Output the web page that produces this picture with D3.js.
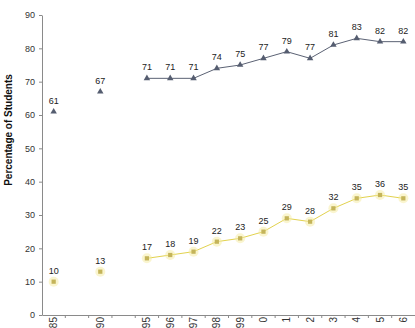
<!DOCTYPE html>
<html>
<head>
<meta charset="utf-8">
<script src="https://cdn.jsdelivr.net/npm/d3@7"></script>
<style>
  body { margin: 0; background: #fff; }
  svg { display: block; font-family: "Liberation Sans", Arial, sans-serif; }
</style>
</head>
<body>
<div id="chart"></div>
<script>
'use strict';

// categories include two blank slots between the early years
const years = ['85', '', '90', ' ', '95', '96', '97', '98', '99', '0', '1', '2', '3', '4', '5', '6'];
const pointYears = ['85', '90', '95', '96', '97', '98', '99', '0', '1', '2', '3', '4', '5', '6'];
const upperValues = [61, 67, 71, 71, 71, 74, 75, 77, 79, 77, 81, 83, 82, 82];
const lowerValues = [10, 13, 17, 18, 19, 22, 23, 25, 29, 28, 32, 35, 36, 35];
const yTicks = [0, 10, 20, 30, 40, 50, 60, 70, 80, 90];
// the line only joins the yearly points from 95 on
const lineStart = '95';

const width = 415;
const height = 328;
const margin = { top: 15, right: 0, bottom: 13, left: 42 };

const svg = d3.select('#chart').append('svg')
  .attr('width', width)
  .attr('height', height);

const xScale = d3.scaleBand()
  .domain(years)
  .range([margin.left, width - margin.right]);

const yScale = d3.scaleLinear()
  .domain([0, 90])
  .range([height - margin.bottom, margin.top]);

const cx = function (y) { return xScale(y) + xScale.bandwidth() / 2; };

// y axis
const yAxis = svg.append('g')
  .attr('transform', `translate(${margin.left}, 0)`)
  .call(d3.axisLeft(yScale).tickValues(yTicks).tickSize(3).tickSizeOuter(0).tickPadding(4));
yAxis.select('.domain').attr('stroke', '#8a8a8a');
yAxis.selectAll('.tick line').attr('stroke', '#8a8a8a');
yAxis.selectAll('.tick text').attr('fill', '#333').style('font-size', '9px');

// x axis
const xAxis = svg.append('g')
  .attr('transform', `translate(0, ${yScale(0)})`)
  .call(d3.axisBottom(xScale).tickSize(0).tickSizeOuter(0));
xAxis.select('.domain').attr('stroke', '#8a8a8a');
xAxis.selectAll('.tick line').remove();
xAxis.selectAll('.tick text')
  .attr('fill', '#333')
  .style('font-size', '10px')
  .attr('text-anchor', 'end')
  .attr('transform', 'translate(0, 2) rotate(-90)')
  .attr('x', 0)
  .attr('y', 0)
  .attr('dy', '0.35em');

// separator ticks between categories
xAxis.selectAll('.sep')
  .data(years.slice(1))
  .enter().append('line')
  .attr('class', 'sep')
  .attr('x1', function (d) { return xScale(d); })
  .attr('x2', function (d) { return xScale(d); })
  .attr('y1', 0)
  .attr('y2', 3)
  .attr('stroke', '#8a8a8a');

// axis title
svg.append('text')
  .attr('transform', `translate(12, 130) rotate(-90)`)
  .attr('text-anchor', 'middle')
  .style('font-size', '10px')
  .style('font-weight', 'bold')
  .attr('fill', '#111')
  .text('Percentage of Students');

function drawSeries(values, lineColor, markColor, symbolType, glow) {
  const data = pointYears.map(function (y, i) { return { year: y, value: values[i] }; });
  const startIdx = pointYears.indexOf(lineStart);
  const line = d3.line()
    .x(function (d) { return cx(d.year); })
    .y(function (d) { return yScale(d.value); });

  svg.append('path')
    .datum(data.slice(startIdx))
    .attr('fill', 'none')
    .attr('stroke', lineColor)
    .attr('stroke-width', 1)
    .attr('d', line);

  const sym = d3.symbol().type(symbolType).size(18);
  const g = svg.append('g');
  if (glow) {
    g.selectAll('.glow')
      .data(data)
      .enter().append('circle')
      .attr('cx', function (d) { return cx(d.year); })
      .attr('cy', function (d) { return yScale(d.value); })
      .attr('r', 5)
      .attr('fill', glow)
      .attr('opacity', 0.5);
  }
  g.selectAll('.mark')
    .data(data)
    .enter().append('path')
    .attr('d', sym)
    .attr('transform', function (d) { return `translate(${cx(d.year)}, ${yScale(d.value)})`; })
    .attr('fill', markColor);

  svg.append('g').selectAll('text')
    .data(data)
    .enter().append('text')
    .attr('x', function (d) { return cx(d.year); })
    .attr('y', function (d) { return yScale(d.value) - 8; })
    .attr('text-anchor', 'middle')
    .style('font-size', '9px')
    .attr('fill', '#222')
    .text(function (d) { return d.value; });
}

drawSeries(upperValues, '#5b6274', '#555d70', d3.symbolTriangle, null);
drawSeries(lowerValues, '#e2d24e', '#c4b45a', d3.symbolSquare, '#f5eca0');
</script>
</body>
</html>
